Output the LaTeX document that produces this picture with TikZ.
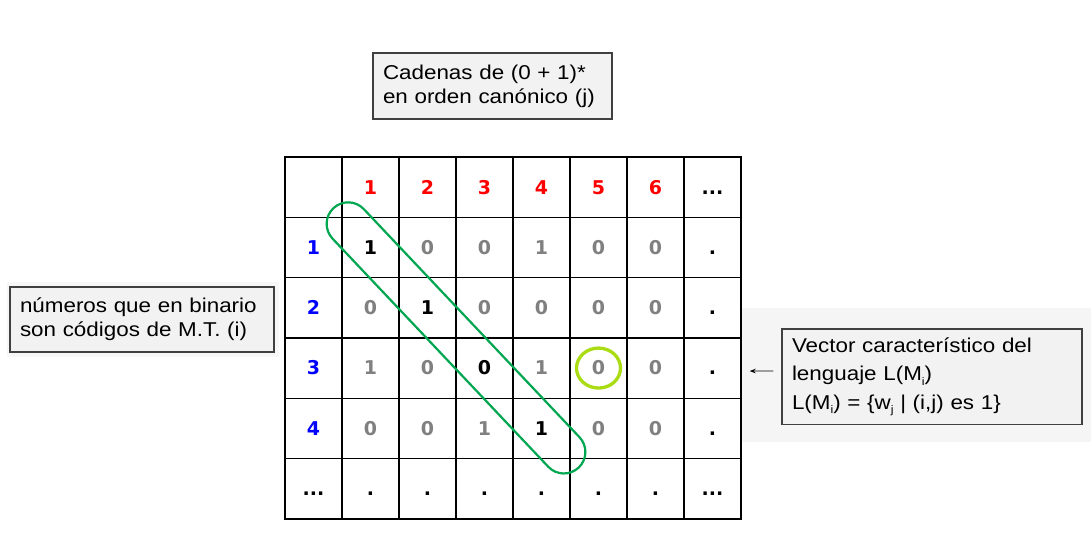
\documentclass[tikz,border=0pt]{standalone}
\usepackage{fontspec}
\setmainfont[FakeStretch=1.12]{Liberation Sans}
\newfontfamily\cellfont{DejaVu Sans}
\usetikzlibrary{arrows.meta,calc}

\definecolor{headred}{RGB}{255,0,0}
\definecolor{rowblue}{RGB}{0,0,255}
\definecolor{bitgray}{RGB}{128,128,128}
\definecolor{diaggreen}{RGB}{0,166,80}
\definecolor{ringlime}{RGB}{170,220,20}
\newcommand{\rowdots}{...}
\newcommand{\subidx}[1]{\raisebox{-0.45ex}{\fontsize{11}{11}\selectfont #1}}

\begin{document}
\begin{tikzpicture}[x=1pt,y=-1pt,
    cell node/.style={draw,line width=1.4pt,minimum width=57pt,minimum height=60.3pt,inner sep=0pt,text height=13.8pt,text depth=0pt,font=\cellfont\bfseries\fontsize{19}{19}\selectfont},
    note node/.style={draw=black!75,fill=black!5,line width=1.1pt,align=left,inner xsep=10pt,inner ysep=0pt,font=\fontsize{20}{24.3}\selectfont}]
  \useasboundingbox (0,0) rectangle (1091,542);
  \fill[black!4] (742,308) rectangle (1091,442);
  \fill[black!3] (7,282) rectangle (279,357);

  \foreach \row [count=\ri from 0] in {
      {black/{}, headred/1, headred/2, headred/3, headred/4, headred/5, headred/6, black/\rowdots},
      {rowblue/1, black/1, bitgray/0, bitgray/0, bitgray/1, bitgray/0, bitgray/0, black/.},
      {rowblue/2, bitgray/0, black/1, bitgray/0, bitgray/0, bitgray/0, bitgray/0, black/.},
      {rowblue/3, bitgray/1, bitgray/0, black/0, bitgray/1, bitgray/0, bitgray/0, black/.},
      {rowblue/4, bitgray/0, bitgray/0, bitgray/1, black/1, bitgray/0, bitgray/0, black/.},
      {black/\rowdots, black/., black/., black/., black/., black/., black/., black/\rowdots}}
    \foreach \col/\txt [count=\ci from 0] in \row
      \node[cell node,text=\col] (c-\ri-\ci) at (313.5+57*\ci,187.15+60.3*\ri) {\txt};

  \node[draw=diaggreen,line width=2.2pt,rounded corners=21.5pt,minimum width=357pt,minimum height=43pt,rotate=-46.6] (diag) at ($(c-1-1)!0.5!(c-4-4)$) {};
  \draw[ringlime,line width=3.3pt] (c-3-5) ellipse [x radius=22pt,y radius=20pt];

  \node[note node,text width=219pt,minimum height=66pt] (canon) at (492.5,86) {Cadenas de (0 + 1)*\\en orden canónico (j)};
  \node[note node,text width=244pt,minimum height=65pt] (codes) at (142,319.5) {números que en binario\\son códigos de M.T. (i)};
  \node[note node,text width=280pt,minimum height=95.5pt,font=\fontsize{20}{28.5}\selectfont] (vec) at (932,376.75) {Vector característico del\\lenguaje L(M\subidx{i})\\L(M\subidx{i}) = \{w\subidx{j} | (i,j) es 1\}};

  \draw[-{Stealth[length=6pt,width=4.5pt]},line width=0.8pt] ([xshift=-8pt,yshift=5.8pt]vec.west) -- ([xshift=8pt,yshift=-3pt]c-3-7.east);
\end{tikzpicture}
\end{document}
